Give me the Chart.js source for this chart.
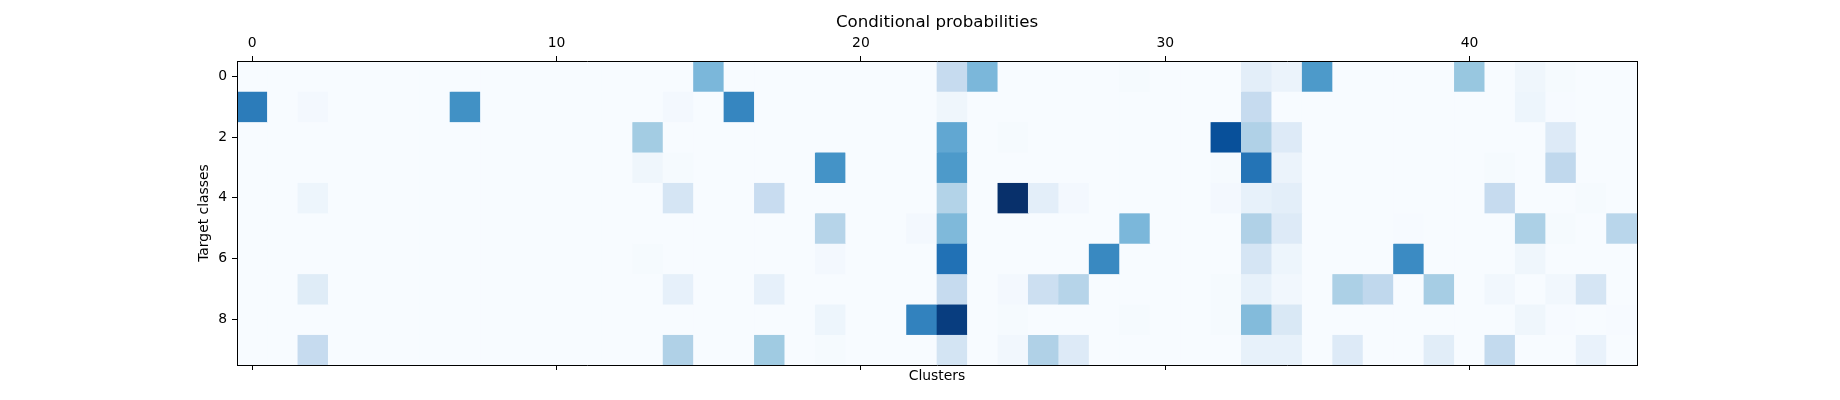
<!DOCTYPE html>
<html>
<head>
<meta charset="utf-8">
<title>Conditional probabilities</title>
<script src="https://cdn.jsdelivr.net/npm/chart.js@4.4.1/dist/chart.umd.min.js"></script>
<style>
  html, body { margin: 0; padding: 0; background: #fff; }
  canvas { display: block; }
</style>
</head>
<body>
<canvas id="heatmap" width="1840" height="400"></canvas>
<script>
// clusters along x, target classes along y
const clusters = ['0', '1', '2', '3', '4', '5', '6', '7', '8', '9',
  '10', '11', '12', '13', '14', '15', '16', '17', '18', '19',
  '20', '21', '22', '23', '24', '25', '26', '27', '28', '29',
  '30', '31', '32', '33', '34', '35', '36', '37', '38', '39',
  '40', '41', '42', '43', '44', '45'];
const classes = [0, 1, 2, 3, 4, 5, 6, 7, 8, 9];
const xTicks = [0, 10, 20, 30, 40];
const yTicks = [0, 2, 4, 6, 8];

// P(cluster | class), scaled to the colour range (0 = lightest, 1 = darkest)
const class0 = [0, 0, 0, 0, 0, 0, 0, 0, 0, 0,
  0, 0, 0, 0, 0, 0.46, 0, 0, 0, 0,
  0, 0, 0, 0.25, 0.46, 0, 0, 0, 0, 0.01,
  0, 0, 0, 0.10, 0.06, 0.59, 0, 0, 0, 0,
  0.39, 0, 0.04, 0.01, 0, 0];
const class1 = [0.71, 0, 0.02, 0, 0, 0, 0, 0.63, 0, 0,
  0, 0, 0, 0, 0.02, 0, 0.67, 0, 0, 0,
  0, 0, 0, 0.04, 0, 0, 0, 0, 0, 0,
  0, 0, 0, 0.25, 0, 0, 0, 0, 0, 0,
  0, 0, 0.05, 0.005, 0, 0];
const class2 = [0, 0, 0, 0, 0, 0, 0, 0, 0, 0,
  0, 0, 0, 0.36, 0, 0, 0, 0, 0, 0,
  0, 0, 0, 0.53, 0, 0.01, 0, 0, 0, 0,
  0, 0, 0.88, 0.32, 0.13, 0, 0, 0, 0, 0,
  0, 0, 0, 0.13, 0, 0];
const class3 = [0, 0, 0, 0, 0, 0, 0, 0, 0, 0,
  0, 0, 0, 0.04, 0.01, 0, 0, 0, 0, 0.62,
  0, 0, 0, 0.59, 0, 0, 0, 0, 0, 0,
  0, 0, 0.01, 0.74, 0.06, 0, 0, 0, 0, 0,
  0, 0.01, 0, 0.27, 0, 0];
const class4 = [0, 0, 0.05, 0, 0, 0, 0, 0, 0, 0,
  0, 0, 0, 0, 0.17, 0, 0, 0.24, 0, 0,
  0, 0, 0, 0.31, 0, 1.0, 0.10, 0.02, 0, 0,
  0, 0, 0.02, 0.08, 0.10, 0, 0, 0, 0, 0,
  0, 0.25, 0, 0, 0.01, 0];
const class5 = [0, 0, 0, 0, 0, 0, 0, 0, 0, 0,
  0, 0, 0, 0, 0, 0, 0, 0, 0, 0.30,
  0, 0, 0.02, 0.45, 0, 0, 0, 0, 0, 0.46,
  0, 0, 0, 0.32, 0.13, 0, 0, 0, 0.005, 0,
  0, 0, 0.33, 0.01, 0, 0.29];
const class6 = [0, 0, 0, 0, 0, 0, 0, 0, 0, 0,
  0, 0, 0, 0.01, 0, 0, 0, 0, 0, 0.02,
  0, 0, 0, 0.75, 0, 0, 0, 0, 0.66, 0,
  0, 0, 0, 0.17, 0.05, 0, 0, 0, 0.65, 0,
  0, 0, 0.04, 0, 0, 0];
const class7 = [0, 0, 0.12, 0, 0, 0, 0, 0, 0, 0,
  0, 0, 0, 0, 0.085, 0, 0, 0.085, 0, 0,
  0, 0, 0, 0.25, 0, 0.02, 0.22, 0.30, 0, 0,
  0, 0, 0.01, 0.08, 0.03, 0, 0.33, 0.27, 0, 0.35,
  0, 0.03, 0, 0.03, 0.17, 0];
const class8 = [0, 0, 0, 0, 0, 0, 0, 0, 0, 0,
  0, 0, 0, 0, 0, 0, 0, 0, 0, 0.05,
  0, 0, 0.685, 0.95, 0, 0.01, 0, 0, 0, 0.01,
  0, 0, 0.01, 0.44, 0.15, 0, 0, 0, 0, 0,
  0, 0, 0.04, 0.005, 0, 0.005];
const class9 = [0, 0, 0.25, 0, 0, 0, 0, 0, 0, 0,
  0, 0, 0, 0, 0.32, 0, 0, 0.37, 0, 0.01,
  0, 0, 0, 0.18, 0, 0.03, 0.32, 0.13, 0, 0,
  0, 0, 0, 0.08, 0.08, 0, 0.13, 0, 0, 0.11,
  0, 0.26, 0, 0, 0.07, 0];
const probs = [class0, class1, class2, class3, class4, class5, class6, class7, class8, class9];

// matplotlib "Blues"
const bluesStops = [
  [247, 251, 255], [222, 235, 247], [198, 219, 239], [158, 202, 225], [107, 174, 214],
  [66, 146, 198], [33, 113, 181], [8, 81, 156], [8, 48, 107]
];
function blues(v) {
  const t = Math.min(Math.max(v, 0), 1) * (bluesStops.length - 1);
  const i = Math.min(Math.floor(t), bluesStops.length - 2);
  const f = t - i;
  const a = bluesStops[i], b = bluesStops[i + 1];
  const c = a.map((x, k) => Math.round(x + (b[k] - x) * f));
  return 'rgb(' + c.join(',') + ')';
}

Chart.defaults.font.family = "'DejaVu Sans', sans-serif";
Chart.defaults.font.size = 13.9;
Chart.defaults.color = '#000';

const tickFont = { size: 13.9 };
// z: 1 so the frame and tick marks are drawn over the cells
const frame = { display: true, color: '#000', width: 1, z: 1 };
const tickGrid = { display: true, drawOnChartArea: false, drawTicks: true, tickLength: 5, color: '#000', lineWidth: 1, offset: false, z: 1 };

const datasets = classes.map((cls, r) => ({
  label: 'class ' + cls,
  data: clusters.map(() => [cls - 0.5, cls + 0.5]),
  backgroundColor: probs[r].map(blues),
  borderWidth: 0,
  grouped: false,
  barPercentage: 1,
  categoryPercentage: 1
}));

const heatmap = new Chart(document.getElementById('heatmap'), {
  type: 'bar',
  data: { labels: clusters, datasets: datasets },
  options: {
    responsive: false,
    animation: false,
    layout: { padding: { left: 186, top: 0, right: 0, bottom: 0 } },
    plugins: { legend: { display: false }, tooltip: { enabled: false } },
    scales: {
      x: {
        type: 'category',
        position: 'top',
        offset: true,
        grid: tickGrid,
        border: frame,
        ticks: { font: tickFont, padding: 4, maxRotation: 0, autoSkip: false },
        title: { display: true, text: 'Conditional probabilities', font: { size: 16.67 }, padding: { top: 13, bottom: 0 } },
        afterBuildTicks: s => { s.ticks = xTicks.map(v => ({ value: v })); },
        afterFit: s => { s.height = 61; }
      },
      x2: {
        type: 'category',
        position: 'bottom',
        offset: true,
        grid: tickGrid,
        border: frame,
        ticks: { display: false },
        title: { display: true, text: 'Clusters', font: tickFont, padding: { top: 0, bottom: 15 } },
        afterBuildTicks: s => { s.ticks = xTicks.map(v => ({ value: v })); },
        afterFit: s => { s.height = 35; }
      },
      y: {
        type: 'linear',
        position: 'left',
        reverse: true,
        min: -0.5,
        max: 9.5,
        grid: tickGrid,
        border: frame,
        ticks: { font: tickFont, padding: 5 },
        title: { display: true, text: 'Target classes', font: tickFont, padding: { top: 10, bottom: 0 } },
        afterBuildTicks: s => { s.ticks = yTicks.map(v => ({ value: v })); },
        afterFit: s => { s.width = 51; }
      },
      y2: {
        type: 'linear',
        position: 'right',
        display: true,
        grid: { display: false },
        border: frame,
        ticks: { display: false },
        afterFit: s => { s.width = 203; }
      }
    }
  }
});
</script>
</body>
</html>
